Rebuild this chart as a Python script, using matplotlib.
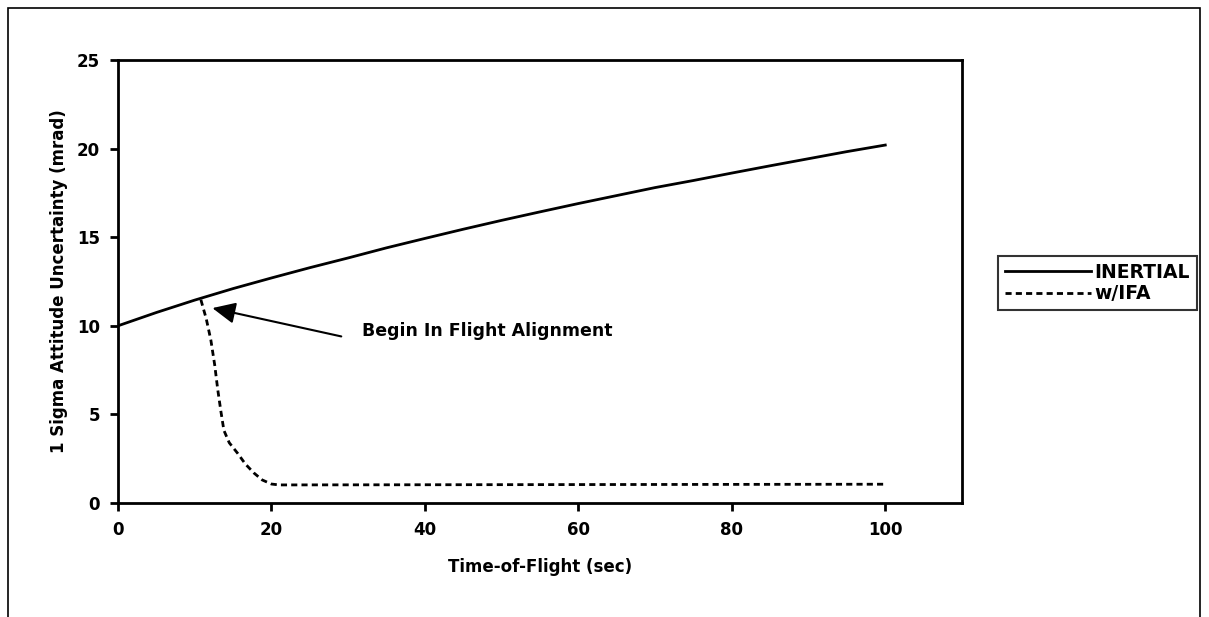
import matplotlib.pyplot as plt
from matplotlib.patches import Rectangle

plt.rcParams['font.family'] = ['DejaVu Sans']
plt.rcParams['font.weight'] = 'bold'

# INERTIAL
t_inertial = [0, 5, 10, 15, 20, 25, 30, 35, 40, 45, 50, 55, 60, 65, 70, 75, 80, 85, 90, 95, 100]
inertial = [10.0, 10.75, 11.45, 12.1, 12.7, 13.28, 13.83, 14.4, 14.93, 15.45, 15.95,
            16.43, 16.9, 17.35, 17.8, 18.2, 18.62, 19.03, 19.43, 19.83, 20.2]

# w/IFA
t_ifa = [10.8, 11.5, 12.1, 12.6, 13.0, 13.4, 13.8, 14.5, 15.6, 16.6, 17.7, 18.8, 20.0, 21, 40, 60, 80, 100]
ifa = [11.47, 10.4, 9.2, 7.8, 6.4, 5.2, 4.1, 3.4, 2.8, 2.2, 1.7, 1.3, 1.07, 1.02, 1.03, 1.04, 1.05, 1.06]

fig = plt.figure(figsize=(12.09, 6.17), dpi=100)
fig.patches.append(Rectangle((8/1209, -0.05), 1192/1209, 1.05 - 8/617, transform=fig.transFigure,
                             fill=False, edgecolor='black', linewidth=1.2))

ax = fig.add_axes([118/1209, 1 - 503/617, (962 - 118)/1209, (503 - 60)/617])
ax.plot(t_inertial, inertial, color='black', linewidth=2, label='INERTIAL')
ax.plot(t_ifa, ifa, color='black', linewidth=2, linestyle=(0, (2.2, 1.5)), label='w/IFA')

ax.set_xlim(0, 110)
ax.set_ylim(0, 25)
ax.set_xticks(range(0, 101, 20))
ax.set_yticks(range(0, 26, 5))
for s in ax.spines.values():
    s.set_linewidth(2)
ax.tick_params(direction='out', length=6, width=2, labelsize=12, pad=7)

ax.set_xlabel('Time-of-Flight (sec)', fontsize=12, fontweight='bold')
ax.set_ylabel('1 Sigma Attitude Uncertainty (mrad)', fontsize=12, fontweight='bold')
ax.xaxis.set_label_coords(0.5, -0.124)
ax.yaxis.set_label_coords(-0.059, 0.5)

ax.annotate('', xy=(12.3, 11.0), xytext=(29.1, 9.4),
            arrowprops=dict(arrowstyle='-|>,head_length=1.4,head_width=0.65', color='black', lw=1.5,
                            shrinkA=0, shrinkB=0))
ax.text(31.8, 9.7, 'Begin In Flight Alignment', fontsize=12.5, fontweight='bold', va='center', ha='left')

leg = ax.legend(loc='center left', bbox_to_anchor=(998/1209, 1 - 283/617), bbox_transform=fig.transFigure,
                frameon=True, fancybox=False, fontsize=13.5, handlelength=4.6, handletextpad=0.2,
                borderpad=0.35, labelspacing=0.12, borderaxespad=0)
leg.get_frame().set_edgecolor('black')
leg.get_frame().set_linewidth(1.5)

fig.savefig('out.png', dpi=100)
